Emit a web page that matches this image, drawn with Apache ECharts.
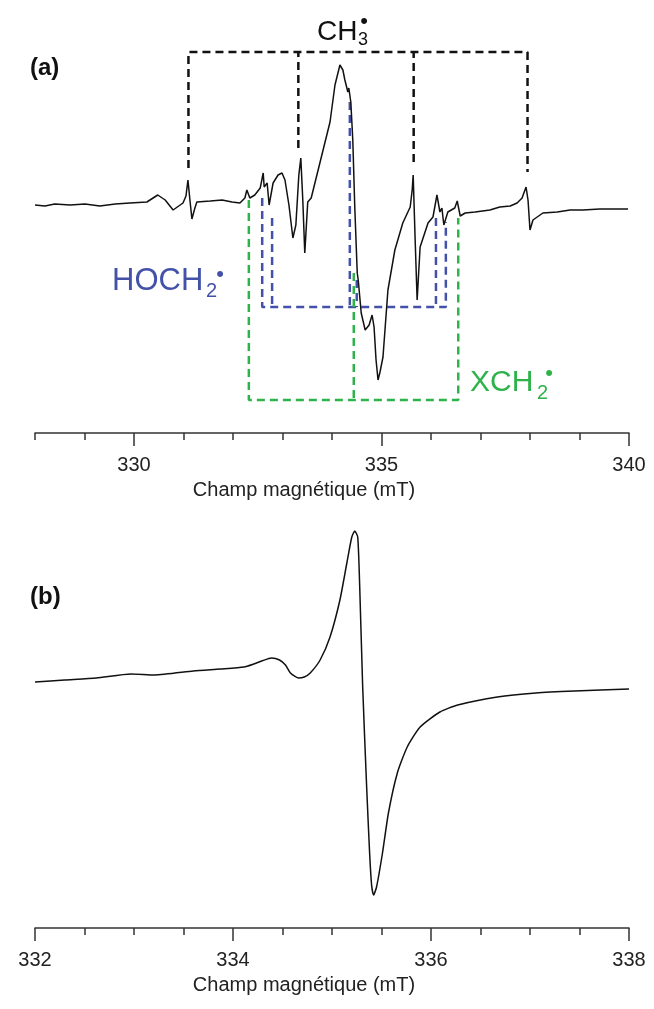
<!DOCTYPE html>
<html>
<head>
<meta charset="utf-8">
<script src="https://cdn.jsdelivr.net/npm/echarts@6/dist/echarts.min.js"></script>
<style>
  html, body { margin: 0; padding: 0; background: #fff; }
  #chart { width: 654px; height: 1009px; }
</style>
</head>
<body>
<div id="chart"></div>
<script>
// spectre (a) : champ (mT) / intensite (u.a.)
var fieldA = [328.00, 328.20, 328.40, 328.71, 329.01, 329.31, 329.35, 329.62, 329.92, 330.26,
  330.48, 330.63, 330.79, 330.99, 331.05, 331.09, 331.13, 331.17, 331.23, 331.27,
  331.54, 331.78, 331.98, 332.14, 332.24, 332.28, 332.34, 332.44, 332.55, 332.61,
  332.63, 332.69, 332.73, 332.81, 332.91, 332.99, 333.05, 333.13, 333.21, 333.27,
  333.33, 333.37, 333.41, 333.45, 333.51, 333.58, 333.76, 333.96, 334.06, 334.16,
  334.22, 334.26, 334.32, 334.34, 334.38, 334.42, 334.46, 334.51, 334.53, 334.59,
  334.67, 334.75, 334.81, 334.85, 334.89, 334.93, 334.97, 335.03, 335.13, 335.27,
  335.43, 335.58, 335.62, 335.64, 335.68, 335.72, 335.78, 335.94, 336.04, 336.12,
  336.18, 336.22, 336.26, 336.34, 336.48, 336.53, 336.59, 336.69, 336.89, 337.19,
  337.39, 337.60, 337.74, 337.84, 337.92, 337.96, 338.00, 338.06, 338.26, 338.55,
  338.81, 339.07, 339.41, 339.72, 339.98];
var intensityA = [0.0, -0.1, 0.1, 0.0, 0.1, -0.1, -0.2, 0.1, 0.2, 0.3,
  1.0, 0.5, -0.5, 0.2, 0.9, 2.5, 0.5, -1.4, -0.3, 0.3,
  0.4, 0.5, 0.3, 0.2, 0.7, 1.5, 0.7, 1.0, 1.7, 3.2,
  1.8, 2.2, 0.0, 2.2, 3.0, 3.2, 2.5, 0.0, -3.3, -2.0,
  3.0, 4.7, 0.5, -4.8, 0.3, 0.7, 4.3, 8.3, 12.0, 14.0,
  13.5, 12.5, 11.3, 11.7, 10.3, 6.5, -0.2, -6.8, -7.5, -10.8,
  -12.5, -12.0, -11.0, -12.2, -15.5, -17.5, -16.7, -15.2, -8.5, -4.5,
  -1.8, -0.2, 1.5, 3.0, -3.5, -9.5, -4.2, -1.8, -1.2, 1.0,
  -0.7, -0.3, -2.0, -0.7, -0.3, 0.4, -1.1, -0.8, -0.7, -0.5,
  -0.2, -0.1, 0.2, 0.7, 1.8, 0.5, -2.5, -1.5, -0.8, -0.7,
  -0.5, -0.5, -0.4, -0.4, -0.4];

// spectre (b)
var fieldB = [332.00, 332.30, 332.62, 332.97, 333.21, 333.60, 333.87, 334.11, 334.21, 334.29,
  334.39, 334.47, 334.53, 334.58, 334.66, 334.72, 334.78, 334.88, 334.98, 335.08,
  335.15, 335.20, 335.23, 335.26, 335.28, 335.31, 335.35, 335.38, 335.40, 335.42,
  335.45, 335.51, 335.57, 335.66, 335.76, 335.89, 336.09, 336.27, 336.67, 337.06,
  337.45, 338.00];
var intensityB = [-0.2, 0.0, 0.2, 0.6, 0.5, 0.9, 1.1, 1.3, 1.6, 1.9,
  2.2, 2.0, 1.5, 0.7, 0.2, 0.3, 0.7, 2.0, 4.3, 8.0,
  11.7, 14.3, 14.9, 14.3, 9.3, -0.7, -10.7, -17.3, -20.5, -21.5,
  -20.7, -17.3, -13.3, -9.3, -6.7, -4.7, -3.2, -2.5, -1.7, -1.3,
  -1.1, -0.9];

// positions des raies (mT) et extremites des traits
var ch3Lines = [331.10, 333.32, 335.65, 337.95];
var ch3Ends = [3.7, 5.7, 4.3, 3.3];
var ch3Level = 15.3;
var hoch2Lines = [332.59, 332.79, 334.36, 334.50, 336.10, 336.30];
var hoch2Ends = [0.7, -1.3, 10.3, -7.5, -1.3, -1.7];
var hoch2Level = -10.2;
var xch2Lines = [332.32, 334.44, 336.55];
var xch2Ends = [0.5, -6.8, -1.3];
var xch2Level = -19.5;

var ticksA = [330, 335, 340];

function pairs(xs, ys) {
    var out = [];
    for (var i = 0; i < xs.length; i++) out.push([xs[i], ys[i]]);
    return out;
}

// crochet : U exterieur + traits interieurs, '-' coupe la ligne
function bracket(lines, ends, level) {
    var n = lines.length - 1;
    var d = [[lines[0], ends[0]], [lines[0], level], [lines[n], level], [lines[n], ends[n]]];
    for (var i = 1; i < n; i++) {
        d.push('-');
        d.push([lines[i], ends[i]]);
        d.push([lines[i], level]);
    }
    return d;
}

var FONT = 'Liberation Sans, Arial, sans-serif';
var BLUE = '#4352a8';
var GREEN = '#2db34a';
var AX = '#333';
var nameStyle = { fontSize: 20, fontFamily: FONT, color: '#222', padding: [0, 56, 0, 0] };

function dashed(name, data, color) {
    return {
        name: name, type: 'line', xAxisIndex: 0, yAxisIndex: 0,
        data: data, symbol: 'none', silent: true, connectNulls: false,
        lineStyle: { color: color, width: 2.5, type: [8, 5] }, z: 1
    };
}

var myChart = echarts.init(document.getElementById('chart'), null, { renderer: 'canvas' });

var option = {
    animation: false,
    backgroundColor: '#fff',
    grid: [
        { left: 35, right: 25, top: 40, height: 393 },
        { left: 35, right: 25, top: 520, height: 408 }
    ],
    xAxis: [
        {
            gridIndex: 0, type: 'value', position: 'bottom', min: 328, max: 340, interval: 1,
            axisLine: { onZero: false, lineStyle: { color: AX, width: 1.5 } },
            axisTick: { length: 7, lineStyle: { color: AX, width: 1.5 } },
            axisLabel: { show: false }, splitLine: { show: false }
        },
        {
            gridIndex: 0, type: 'value', position: 'bottom', min: 328, max: 340,
            axisLine: { show: false, onZero: false },
            axisTick: { customValues: ticksA, length: 13, lineStyle: { color: AX, width: 1.5 } },
            axisLabel: { customValues: ticksA, fontSize: 20, fontFamily: FONT, color: '#222', margin: 22 },
            splitLine: { show: false },
            name: 'Champ magnétique (mT)', nameLocation: 'middle', nameGap: 47,
            nameTextStyle: nameStyle
        },
        {
            gridIndex: 1, type: 'value', min: 332, max: 338, interval: 2,
            axisLine: { onZero: false, lineStyle: { color: AX, width: 1.5 } },
            axisTick: { length: 13, lineStyle: { color: AX, width: 1.5 } },
            minorTick: { show: true, splitNumber: 4, length: 7, lineStyle: { color: AX, width: 1.5 } },
            axisLabel: { fontSize: 20, fontFamily: FONT, color: '#222', margin: 22 },
            splitLine: { show: false },
            name: 'Champ magnétique (mT)', nameLocation: 'middle', nameGap: 47,
            nameTextStyle: nameStyle
        }
    ],
    yAxis: [
        { gridIndex: 0, type: 'value', min: -22.8, max: 16.5, show: false },
        { gridIndex: 1, type: 'value', min: -24.8, max: 16, show: false }
    ],
    series: [
        dashed('CH3', bracket(ch3Lines, ch3Ends, ch3Level), '#111'),
        dashed('HOCH2', bracket(hoch2Lines, hoch2Ends, hoch2Level), BLUE),
        dashed('XCH2', bracket(xch2Lines, xch2Ends, xch2Level), GREEN),
        {
            name: 'a', type: 'line', xAxisIndex: 0, yAxisIndex: 0,
            data: pairs(fieldA, intensityA), symbol: 'none',
            lineStyle: { color: '#111', width: 1.5 }, z: 3
        },
        {
            name: 'b', type: 'line', xAxisIndex: 2, yAxisIndex: 1,
            data: pairs(fieldB, intensityB), symbol: 'none', smooth: 0.2,
            lineStyle: { color: '#111', width: 1.5 }, z: 3
        }
    ],
    graphic: [
        { type: 'text', style: { x: 30, y: 68, text: '(a)', font: 'bold 24px ' + FONT, fill: '#111', textVerticalAlign: 'middle' } },
        { type: 'text', style: { x: 30, y: 597, text: '(b)', font: 'bold 24px ' + FONT, fill: '#111', textVerticalAlign: 'middle' } },

        { type: 'text', style: { x: 317, y: 32, text: 'CH', font: '28px ' + FONT, fill: '#111', textVerticalAlign: 'middle' } },
        { type: 'text', style: { x: 358, y: 40, text: '3', font: '18px ' + FONT, fill: '#111', textVerticalAlign: 'middle' } },
        { type: 'text', style: { x: 364, y: 22, text: '•', font: '22px ' + FONT, fill: '#111', textAlign: 'center', textVerticalAlign: 'middle' } },

        { type: 'text', style: { x: 112, y: 281, text: 'HOCH', font: '31px ' + FONT, fill: BLUE, textVerticalAlign: 'middle' } },
        { type: 'text', style: { x: 206, y: 291, text: '2', font: '20px ' + FONT, fill: BLUE, textVerticalAlign: 'middle' } },
        { type: 'text', style: { x: 220, y: 275, text: '•', font: '22px ' + FONT, fill: BLUE, textAlign: 'center', textVerticalAlign: 'middle' } },

        { type: 'text', style: { x: 470, y: 383, text: 'XCH', font: '30px ' + FONT, fill: GREEN, textVerticalAlign: 'middle' } },
        { type: 'text', style: { x: 537, y: 393, text: '2', font: '20px ' + FONT, fill: GREEN, textVerticalAlign: 'middle' } },
        { type: 'text', style: { x: 549, y: 374, text: '•', font: '22px ' + FONT, fill: GREEN, textAlign: 'center', textVerticalAlign: 'middle' } }
    ]
};
myChart.setOption(option);
</script>
</body>
</html>
